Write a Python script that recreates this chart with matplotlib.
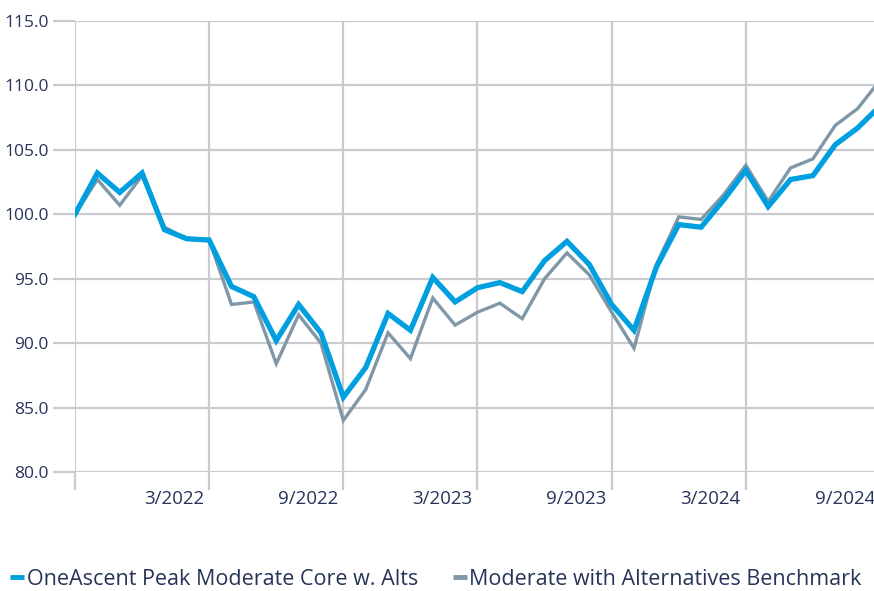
import matplotlib.pyplot as plt
import matplotlib.transforms as mtransforms
from matplotlib.lines import Line2D

plt.rcParams['font.family'] = ['Open Sans', 'DejaVu Sans']

# monthly growth of 100, 9/2021 .. 9/2024
core_alts = [100.0, 103.2, 101.7, 103.2, 98.8, 98.1, 98.0, 94.4, 93.6, 90.2,
             93.0, 90.8, 85.8, 88.1, 92.3, 91.0, 95.1, 93.2, 94.3, 94.7,
             94.0, 96.4, 97.9, 96.1, 93.0, 91.0, 95.9, 99.2, 99.0, 101.1,
             103.4, 100.6, 102.7, 103.0, 105.4, 106.7, 108.4]
benchmark = [100.0, 102.7, 100.7, 103.0, 99.0, 98.1, 98.0, 93.0, 93.2, 88.4,
             92.2, 90.0, 84.0, 86.4, 90.8, 88.8, 93.5, 91.4, 92.4, 93.1,
             91.9, 95.0, 97.0, 95.3, 92.4, 89.6, 96.1, 99.8, 99.6, 101.5,
             103.8, 101.0, 103.6, 104.3, 106.9, 108.2, 110.4]
tick_pos = [0, 6, 12, 18, 24, 30, 36]
tick_labels = ['', '3/2022', '9/2022', '3/2023', '9/2023', '3/2024', '9/2024']
y_ticks = [80, 85, 90, 95, 100, 105, 110, 115]

blue = '#009fdf'
gray = '#7f97a7'
grid = '#c9cbd1'
text = '#27345a'

fig = plt.figure(figsize=(8.74, 5.91), dpi=100)
ax = fig.add_axes([75/874, 119/591, 805/874, 451/591])

x = list(range(len(core_alts)))
ax.plot(x, benchmark, color=gray, lw=2.4, zorder=3, solid_joinstyle='miter')
ax.plot(x, core_alts, color=blue, lw=3.8, zorder=4, solid_joinstyle='miter')

ax.set_xlim(0, 36)
ax.set_ylim(80, 115)
ax.set_xticks(tick_pos)
ax.set_xticklabels(tick_labels, ha='right')
ax.set_yticks(y_ticks)
ax.set_yticklabels([f'{v:.1f}' for v in y_ticks])
ax.grid(True, color=grid, lw=1.6, zorder=0)
for s in ax.spines.values():
    s.set_visible(False)
ax.tick_params(axis='y', length=16, width=1.6, color=grid, labelsize=12.5,
               labelcolor=text, pad=3)
ax.tick_params(axis='x', length=13, width=1.6, color=grid, labelsize=13.5,
               labelcolor=text, pad=0)
# labels sit just left of their gridline
shift = mtransforms.ScaledTranslation(-5/100, 0, fig.dpi_scale_trans)
for lbl in ax.get_xticklabels():
    lbl.set_transform(lbl.get_transform() + shift)

handles = [Line2D([], [], color=blue, lw=3.5, solid_capstyle='butt'),
           Line2D([], [], color=gray, lw=3.5, solid_capstyle='butt')]
fig.legend(handles, ['OneAscent Peak Moderate Core w. Alts',
                     'Moderate with Alternatives Benchmark'],
           loc='lower left', bbox_to_anchor=(-0.003, -0.02), ncol=2, frameon=False,
           handlelength=0.65, handletextpad=0.12, columnspacing=1.6,
           fontsize=15.5, labelcolor=text, borderaxespad=0.2)

fig.savefig('out.png', dpi=100)
